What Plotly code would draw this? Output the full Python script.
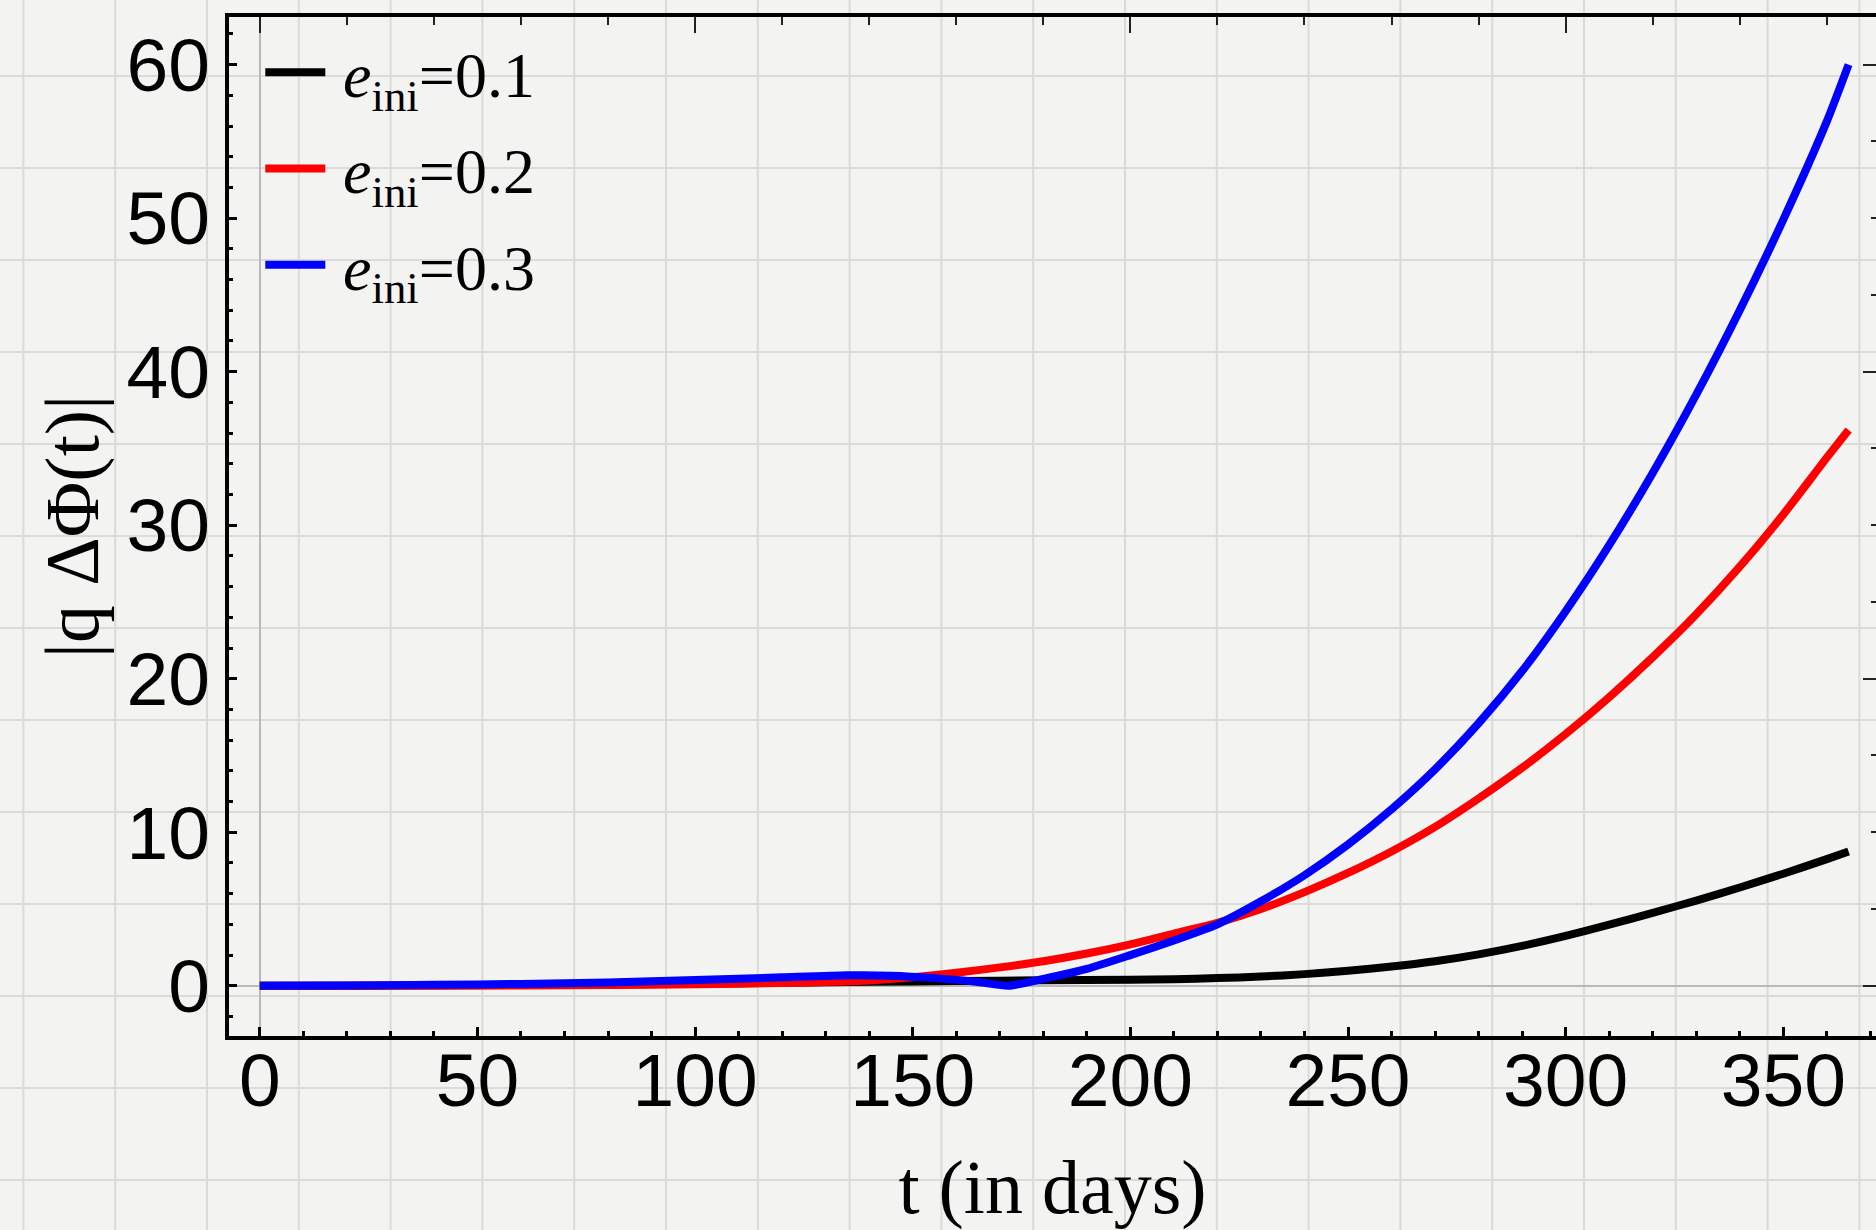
import plotly.graph_objects as go

# ---------------- data ----------------
t_e01 = [0, 20, 40, 60, 80, 100, 120, 140, 160, 180, 200, 210, 220, 230, 240, 250,
         260, 270, 280, 290, 300, 310, 320, 330, 340, 350, 360, 365]
phi_e01 = [0, 0.01, 0.03, 0.05, 0.09, 0.14, 0.2, 0.26, 0.31, 0.36, 0.4, 0.43, 0.5, 0.6,
           0.76, 0.98, 1.25, 1.6, 2.05, 2.6, 3.25, 3.98, 4.75, 5.55, 6.4, 7.3, 8.25, 8.75]

t_e02 = [0, 20, 40, 60, 80, 100, 120, 140, 150, 160, 170, 180, 190, 200, 210, 220, 230,
         240, 250, 260, 270, 280, 290, 300, 310, 320, 330, 340, 350, 360, 365]
phi_e02 = [0, 0.0, 0.01, 0.02, 0.05, 0.1, 0.18, 0.35, 0.55, 0.85, 1.2, 1.6, 2.1, 2.7,
           3.4, 4.1, 5.0, 6.1, 7.35, 8.75, 10.35, 12.2, 14.2, 16.4, 18.8, 21.4, 24.2,
           27.3, 30.7, 34.4, 36.2]

t_e03 = [0, 20, 40, 60, 80, 100, 120, 135, 145, 155, 165, 172, 180, 190, 200, 210, 220,
         230, 240, 250, 260, 270, 280, 290, 300, 310, 320, 330, 340, 350, 360, 365]
phi_e03 = [0, 0.02, 0.06, 0.12, 0.22, 0.37, 0.55, 0.68, 0.66, 0.5, 0.25, 0.0, 0.45, 1.1,
           2.0, 2.95, 4.0, 5.5, 7.2, 9.2, 11.5, 14.1, 17.1, 20.5, 24.4, 28.7, 33.4, 38.5,
           44.0, 49.9, 56.3, 60.0]

series_names = ["<i>e</i><sub>ini</sub>=0.1", "<i>e</i><sub>ini</sub>=0.2",
                "<i>e</i><sub>ini</sub>=0.3"]
series_colors = ["#000000", "#ff0000", "#0000ff"]

x_title = "t (in days)"
y_title = "|q ΔΦ(t)|"

# ---------------- figure ----------------
W, H = 1876, 1230
ml, mr, mt, mb = 229, 0, 17, 194
pw, ph = W - ml - mr, H - mt - mb

fig = go.Figure()

for tx, ty, name, col in zip([t_e01, t_e02, t_e03], [phi_e01, phi_e02, phi_e03],
                             series_names, series_colors):
    fig.add_trace(go.Scatter(
        x=tx, y=ty, mode="lines", name="\u2009" + name, legendgroup=name,
        line=dict(color=col, width=8, shape="spline", smoothing=0.6),
    ))

# invisible helper trace so the top/right frame axes are drawn
fig.add_trace(go.Scatter(x=t_e01, y=phi_e01, xaxis="x2", yaxis="y2", mode="lines",
                         opacity=0, showlegend=False, hoverinfo="skip",
                         line=dict(width=0)))

# graph-paper background (decoration), positions in pixels converted to paper
grid_col = "#dadad7"
shapes = []
gx = 23.4
while gx < W:
    xp = (gx - ml) / pw
    shapes.append(dict(type="line", xref="paper", yref="paper", layer="below",
                       x0=xp, x1=xp, y0=-mb / ph, y1=1 + mt / ph,
                       line=dict(color=grid_col, width=2)))
    gx += 91.8
gy = -16.0
while gy < H:
    yp = 1 - (gy - mt) / ph
    shapes.append(dict(type="line", xref="paper", yref="paper", layer="below",
                       x0=-ml / pw, x1=1.01, y0=yp, y1=yp,
                       line=dict(color=grid_col, width=2)))
    gy += 92.0

xr = [-7.08, 371.3]
yr = [-3.27, 63.1]
tick_font = dict(family="Liberation Sans, Arial, sans-serif", size=75, color="black")
serif = "Liberation Serif, Times New Roman, serif"

fig.update_layout(
    width=W, height=H,
    margin=dict(l=ml, r=mr, t=mt, b=mb, autoexpand=False),
    paper_bgcolor="#f3f3f1",
    plot_bgcolor="rgba(0,0,0,0)",
    shapes=shapes,
    showlegend=True,
    legend=dict(x=0.019, y=0.993, xanchor="left", yanchor="top",
                bgcolor="rgba(0,0,0,0)", borderwidth=0,
                font=dict(family=serif, size=64, color="black"),
                itemwidth=60, tracegroupgap=10),
    xaxis=dict(range=xr, showgrid=False, zeroline=True, zerolinecolor="#b9b9b7",
               zerolinewidth=2, showline=True, linecolor="black", linewidth=4,
               ticks="inside", ticklen=9, tickwidth=3, tickcolor="black",
               tick0=0, dtick=50, tickfont=tick_font, ticklabelstandoff=-24,
               minor=dict(dtick=10, tick0=0, ticks="inside", ticklen=5, tickwidth=3,
                          tickcolor="black", showgrid=False),
               title=dict(text=x_title, font=dict(family=serif, size=76, color="black"),
                          standoff=50),
               automargin=False),
    yaxis=dict(range=yr, showgrid=False, zeroline=True, zerolinecolor="#b9b9b7",
               zerolinewidth=2, showline=True, linecolor="black", linewidth=4,
               ticks="inside", ticklen=8, tickwidth=3, tickcolor="black",
               tick0=0, dtick=10, tickfont=tick_font,
               minor=dict(dtick=2, tick0=0, ticks="inside", ticklen=4, tickwidth=3,
                          tickcolor="black", showgrid=False),
               title=dict(text=y_title, font=dict(family=serif, size=76, color="black"),
                          standoff=4),
               automargin=False),
    xaxis2=dict(overlaying="x", side="top", matches="x", anchor="y2",
                showgrid=False, zeroline=False, showline=True, linecolor="black",
                linewidth=4, ticks="inside", ticklen=16, tickwidth=1.5,
                tickcolor="#222", tick0=0, dtick=100, showticklabels=False,
                minor=dict(dtick=20, tick0=0, ticks="inside", ticklen=8, tickwidth=1.5,
                           tickcolor="#222", showgrid=False)),
    yaxis2=dict(overlaying="y", side="right", matches="y", anchor="x2",
                showgrid=False, zeroline=False, showline=False,
                ticks="inside", ticklen=13, tickwidth=1.5, tickcolor="#222",
                tick0=0, dtick=20, showticklabels=False,
                minor=dict(dtick=5, tick0=0, ticks="inside", ticklen=5, tickwidth=1.5,
                           tickcolor="#222", showgrid=False)),
)

fig.write_html("out.html")
